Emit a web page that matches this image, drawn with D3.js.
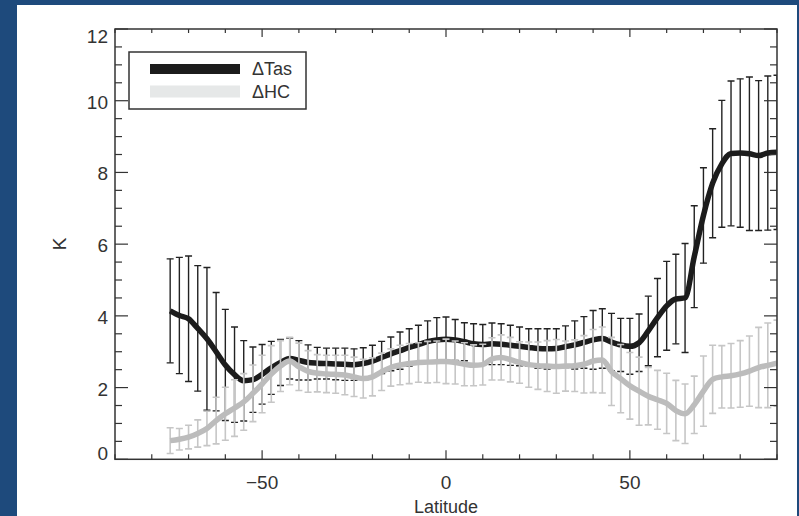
<!DOCTYPE html>
<html>
<head>
<meta charset="utf-8">
<script src="https://cdn.jsdelivr.net/npm/d3@7"></script>
<style>
  html, body { margin: 0; padding: 0; background: #1e4a7c; }
  svg { display: block; }
  text { font-family: "Liberation Sans", Arial, sans-serif; fill: #333; }
</style>
</head>
<body>
<svg id="chart" width="799" height="516"></svg>
<script>
// Zonal-mean response, latitude bands every 2.5 degrees
const latitude = [
  -75, -72.5, -70, -67.5, -65, -62.5, -60, -57.5, -55, -52.5,
  -50, -47.5, -45, -42.5, -40, -37.5, -35, -32.5, -30, -27.5,
  -25, -22.5, -20, -17.5, -15, -12.5, -10, -7.5, -5, -2.5,
  0, 2.5, 5, 7.5, 10, 12.5, 15, 17.5, 20, 22.5,
  25, 27.5, 30, 32.5, 35, 37.5, 40, 42.5, 45, 47.5,
  50, 52.5, 55, 57.5, 60, 62.5, 65, 67.5, 70, 72.5,
  75, 77.5, 80, 82.5, 85, 87.5, 90
];

// ΔTas mean and spread (K)
const tasMean = [
  4.14, 4.01, 3.92, 3.65, 3.36, 3.00, 2.63, 2.36, 2.19, 2.22,
  2.37, 2.55, 2.70, 2.81, 2.76, 2.70, 2.68, 2.67, 2.66, 2.65,
  2.64, 2.67, 2.74, 2.84, 2.94, 3.03, 3.12, 3.20, 3.28, 3.33,
  3.35, 3.33, 3.28, 3.22, 3.20, 3.22, 3.21, 3.18, 3.15, 3.12,
  3.09, 3.08, 3.09, 3.14, 3.19, 3.26, 3.33, 3.37, 3.27, 3.19,
  3.15, 3.25, 3.58, 3.95, 4.28, 4.47, 4.50, 5.65, 6.80, 7.70,
  8.24, 8.53, 8.54, 8.52, 8.47, 8.54, 8.56
];
const tasErr = [
  1.45, 1.62, 1.75, 1.75, 1.99, 1.65, 1.55, 1.33, 1.12, 0.91,
  0.83, 0.74, 0.64, 0.57, 0.55, 0.49, 0.44, 0.43, 0.44, 0.45,
  0.44, 0.44, 0.44, 0.45, 0.47, 0.52, 0.52, 0.54, 0.58, 0.62,
  0.62, 0.57, 0.53, 0.56, 0.56, 0.58, 0.57, 0.56, 0.54, 0.52,
  0.55, 0.56, 0.55, 0.58, 0.67, 0.72, 0.82, 0.83, 0.80, 0.74,
  0.78, 0.80, 0.97, 1.09, 1.24, 1.25, 1.52, 1.42, 1.33, 1.52,
  1.77, 2.02, 2.07, 2.14, 2.09, 2.15, 2.15
];

// ΔHC mean and spread (K)
const hcMean = [
  0.52, 0.56, 0.62, 0.72, 0.86, 1.08, 1.27, 1.43, 1.60, 1.84,
  2.10, 2.38, 2.60, 2.74, 2.58, 2.45, 2.40, 2.38, 2.37, 2.35,
  2.30, 2.25, 2.30, 2.44, 2.56, 2.63, 2.67, 2.70, 2.71, 2.72,
  2.73, 2.70, 2.65, 2.62, 2.64, 2.80, 2.84, 2.78, 2.70, 2.64,
  2.61, 2.60, 2.59, 2.60, 2.61, 2.65, 2.74, 2.77, 2.45, 2.25,
  2.05, 1.90, 1.76, 1.66, 1.56, 1.36, 1.27, 1.52, 1.90, 2.23,
  2.30, 2.33, 2.38, 2.46, 2.56, 2.62, 2.68
];
const hcErr = [
  0.36, 0.30, 0.33, 0.38, 0.48, 0.65, 0.74, 0.79, 0.79, 0.79,
  0.80, 0.79, 0.71, 0.66, 0.66, 0.58, 0.52, 0.52, 0.53, 0.55,
  0.55, 0.54, 0.53, 0.52, 0.52, 0.55, 0.56, 0.55, 0.58, 0.58,
  0.62, 0.60, 0.60, 0.57, 0.57, 0.59, 0.63, 0.62, 0.58, 0.63,
  0.66, 0.71, 0.75, 0.70, 0.72, 0.80, 0.88, 0.92, 0.95, 0.95,
  0.93, 0.95, 0.80, 0.82, 0.84, 0.84, 0.83, 0.80, 0.98, 0.95,
  0.87, 0.90, 0.93, 0.98, 1.12, 1.18, 1.20
];

const xTicks = [-50, 0, 50];
const yTicks = [0, 2, 4, 6, 8, 10, 12];
const legendLabels = ["ΔTas", "ΔHC"];

const svg = d3.select("#chart");
const W = 799, H = 516;

// Page: blue surround with a white panel
svg.append("rect").attr("width", W).attr("height", H).attr("fill", "#1e4a7c");
svg.append("rect").attr("x", 17).attr("y", 5).attr("width", 780).attr("height", 511).attr("fill", "#ffffff");

const plot = { left: 115, right: 777, top: 29, bottom: 459.3 };
const x = d3.scaleLinear().domain([-90, 90]).range([plot.left, plot.right]);
const y = d3.scaleLinear().domain([0, 12]).range([plot.bottom, plot.top]);

svg.append("clipPath").attr("id", "plotclip")
  .append("rect")
  .attr("x", plot.left).attr("y", plot.top)
  .attr("width", plot.right - plot.left).attr("height", plot.bottom - plot.top);

const data = latitude.map((lat, i) => ({
  lat,
  tas: tasMean[i], tasE: tasErr[i],
  hc: hcMean[i], hcE: hcErr[i]
}));

const g = svg.append("g").attr("clip-path", "url(#plotclip)");

function drawSeries(meanKey, errKey, barColor, barWidth, lineColor, lineWidth) {
  const capHalf = 3.5;
  const bars = g.append("g");
  data.forEach(d => {
    const cx = x(d.lat);
    const yHi = y(d[meanKey] + d[errKey]);
    const yLo = y(d[meanKey] - d[errKey]);
    bars.append("line").attr("x1", cx).attr("x2", cx).attr("y1", yHi).attr("y2", yLo)
      .attr("stroke", barColor).attr("stroke-width", barWidth);
    bars.append("line").attr("x1", cx - capHalf).attr("x2", cx + capHalf).attr("y1", yHi).attr("y2", yHi)
      .attr("stroke", barColor).attr("stroke-width", barWidth);
    bars.append("line").attr("x1", cx - capHalf).attr("x2", cx + capHalf).attr("y1", yLo).attr("y2", yLo)
      .attr("stroke", barColor).attr("stroke-width", barWidth);
  });
  const line = d3.line().x(d => x(d.lat)).y(d => y(d[meanKey])).curve(d3.curveMonotoneX);
  g.append("path").datum(data).attr("d", line)
    .attr("fill", "none").attr("stroke", lineColor).attr("stroke-width", lineWidth)
    .attr("stroke-linejoin", "round").attr("stroke-linecap", "butt");
}

drawSeries("tas", "tasE", "#222222", 1.4, "#1c1c1c", 5.5);
drawSeries("hc", "hcE", "#c6c6c6", 1.6, "#bcbcbc", 5.5);

// Frame and inward ticks on all four sides
const axisColor = "#333";
const frame = svg.append("g");
frame.append("rect")
  .attr("x", plot.left).attr("y", plot.top)
  .attr("width", plot.right - plot.left).attr("height", plot.bottom - plot.top)
  .attr("fill", "none").attr("stroke", axisColor).attr("stroke-width", 1.5);

const xMinor = d3.range(-90, 91, 10);
xMinor.forEach(v => {
  const major = xTicks.includes(v);
  const px = x(v);
  frame.append("line").attr("x1", px).attr("x2", px)
    .attr("y1", plot.bottom).attr("y2", plot.bottom - (major ? 9 : 5))
    .attr("stroke", axisColor).attr("stroke-width", 1.2);
  frame.append("line").attr("x1", px).attr("x2", px)
    .attr("y1", plot.top).attr("y2", plot.top + (major ? 8 : 4))
    .attr("stroke", axisColor).attr("stroke-width", 1.2);
});
const yMinor = d3.range(0, 12.01, 0.5);
yMinor.forEach(v => {
  const major = Math.abs(v % 2) < 1e-9;
  const py = y(v);
  frame.append("line").attr("x1", plot.left).attr("x2", plot.left + (major ? 13 : 7))
    .attr("y1", py).attr("y2", py).attr("stroke", axisColor).attr("stroke-width", 1.2);
  frame.append("line").attr("x1", plot.right).attr("x2", plot.right - (major ? 13 : 7))
    .attr("y1", py).attr("y2", py).attr("stroke", axisColor).attr("stroke-width", 1.2);
});

// Tick labels
xTicks.forEach(v => {
  svg.append("text").attr("x", x(v)).attr("y", 489)
    .attr("text-anchor", "middle").attr("font-size", 19)
    .text(v < 0 ? "\u2212" + Math.abs(v) : String(v));
});
yTicks.forEach(v => {
  const cy = Math.min(Math.max(y(v) + 1.5, 36), 453);
  svg.append("text").attr("x", 108).attr("y", cy)
    .attr("text-anchor", "end").attr("dominant-baseline", "central")
    .attr("font-size", 19).text(String(v));
});

// Axis titles
svg.append("text").attr("x", 446).attr("y", 513)
  .attr("text-anchor", "middle").attr("font-size", 18).text("Latitude");
svg.append("text").attr("transform", "translate(59,244) rotate(-90)")
  .attr("text-anchor", "middle").attr("dominant-baseline", "central")
  .attr("font-size", 19).text("K");

// Legend
const leg = svg.append("g");
leg.append("rect").attr("x", 129).attr("y", 52).attr("width", 177).attr("height", 57)
  .attr("fill", "#fff").attr("stroke", axisColor).attr("stroke-width", 1.5);
leg.append("line").attr("x1", 150).attr("x2", 240).attr("y1", 69).attr("y2", 69)
  .attr("stroke", "#1c1c1c").attr("stroke-width", 10);
leg.append("line").attr("x1", 150).attr("x2", 240).attr("y1", 91.5).attr("y2", 91.5)
  .attr("stroke", "#e6e8e8").attr("stroke-width", 12);
leg.append("text").attr("x", 252).attr("y", 75).attr("font-size", 18).text(legendLabels[0]);
leg.append("text").attr("x", 252).attr("y", 98).attr("font-size", 18).text(legendLabels[1]);
</script>
</body>
</html>
